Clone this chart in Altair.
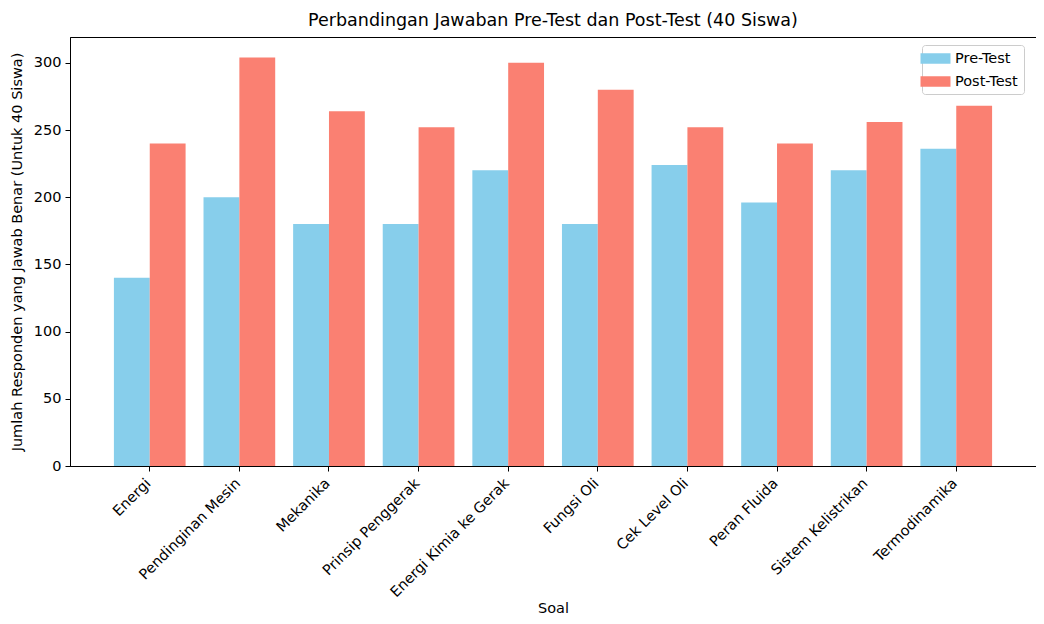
import altair as alt
import pandas as pd

categories = ["Energi", "Pendinginan Mesin", "Mekanika", "Prinsip Penggerak",
              "Energi Kimia ke Gerak", "Fungsi Oli", "Cek Level Oli",
              "Peran Fluida", "Sistem Kelistrikan", "Termodinamika"]
pre_test = [140, 200, 180, 180, 220, 180, 224, 196, 220, 236]
post_test = [240, 304, 264, 252, 300, 280, 252, 240, 256, 268]
series = ["Pre-Test", "Post-Test"]
colors = ["#87CEEB", "#FA8072"]
y_ticks = [0, 50, 100, 150, 200, 250, 300]

rows = []
for c, p, q in zip(categories, pre_test, post_test):
    rows.append({"Soal": c, "Tes": "Pre-Test", "Jumlah": p})
    rows.append({"Soal": c, "Tes": "Post-Test", "Jumlah": q})
df = pd.DataFrame(rows)

FONT = "DejaVu Sans"
FS = 14.5

chart = alt.Chart(df).mark_bar().encode(
    x=alt.X("Soal:N", sort=categories,
            scale=alt.Scale(paddingInner=0.2, paddingOuter=0.49),
            axis=alt.Axis(title="Soal", labelAngle=-45, labelAlign="right",
                          labelBaseline="top", labelFontSize=FS, titleFontSize=FS,
                          titleFontWeight="normal", tickSize=5, labelPadding=5,
                          labelOffset=-6, titleY=146, titleBaseline="alphabetic",
                          domainColor="black",
                          tickColor="black", labelColor="black", titleColor="black")),
    xOffset=alt.XOffset("Tes:N", sort=series,
                        scale=alt.Scale(domain=series, paddingInner=0, paddingOuter=0)),
    y=alt.Y("Jumlah:Q", scale=alt.Scale(domain=[0, 319.2], nice=False),
            axis=alt.Axis(title="Jumlah Responden yang Jawab Benar (Untuk 40 Siswa)",
                          values=y_ticks, grid=False, labelFontSize=FS, titleFontSize=FS,
                          titleFontWeight="normal", tickSize=5, labelPadding=4,
                          titlePadding=9, domainColor="black", tickColor="black",
                          labelColor="black", titleColor="black")),
    color=alt.Color("Tes:N", sort=series,
                    scale=alt.Scale(domain=series, range=colors),
                    legend=alt.Legend(title=None, orient="none", legendX=852, legendY=8,
                                      labelFontSize=FS, labelFont=FONT, labelColor="black",
                                      fillColor="white", strokeColor="#cccccc",
                                      cornerRadius=3, padding=6, rowPadding=8,
                                      symbolType="M-2,-0.7H2V0.7H-2Z",
                                      symbolSize=225, symbolStrokeWidth=0, labelOffset=12,
                                      symbolOpacity=1))
).properties(
    width=966, height=429,
    title=alt.TitleParams("Perbandingan Jawaban Pre-Test dan Post-Test (40 Siswa)",
                          fontSize=17.5, fontWeight="normal", font=FONT, color="black",
                          anchor="middle", offset=8),
    autosize="none",
    padding={"left": 62, "top": 29, "right": 0, "bottom": 150},
).configure(font=FONT).configure_view(stroke="black", strokeWidth=1).configure_axis(
    labelFont=FONT, titleFont=FONT
)

chart.save("out.html", embed_options={"renderer": "svg", "actions": False})
